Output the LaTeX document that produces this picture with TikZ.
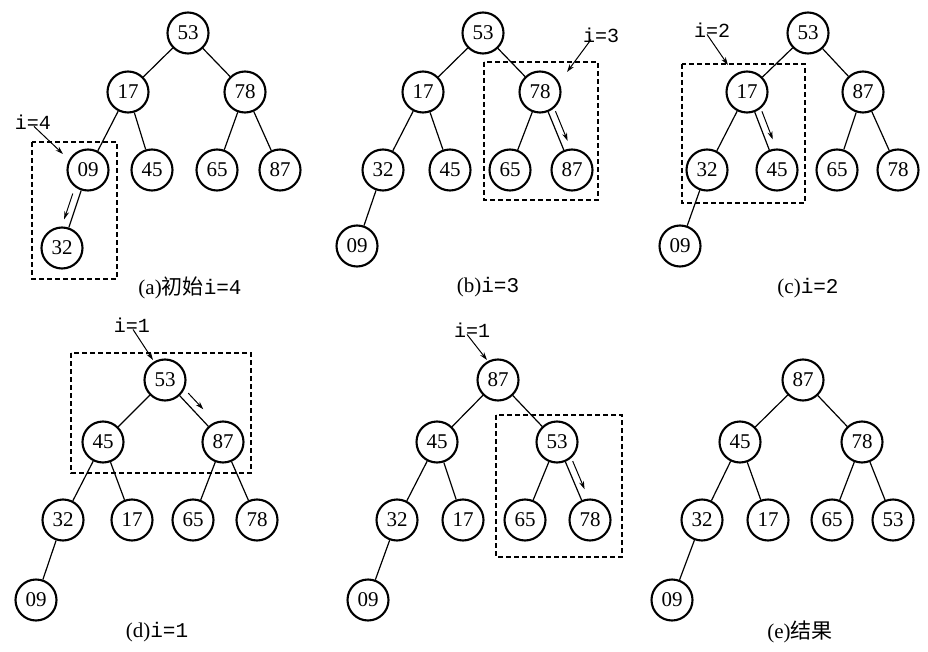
\documentclass[tikz,border=0pt]{standalone}
\usepackage{fontspec}
\setmainfont{Liberation Serif}
\setmonofont{Liberation Mono}
\newfontfamily\cjk{Noto Sans CJK SC}
\usetikzlibrary{arrows.meta,calc}

\tikzset{
  key/.style={circle, draw, line width=2.1pt, minimum size=41pt, inner sep=0pt,
              font=\fontsize{21}{21}\selectfont},
  link/.style={line width=1.2pt},
  focus/.style={line width=1.4pt, dash pattern=on 5pt off 3pt},
  pointer/.style={line width=1pt, -{Stealth[length=8pt,width=5pt]}},
  tag/.style={font=\ttfamily\fontsize{20}{20}\selectfont, inner sep=0pt},
  caption/.style={font=\fontsize{21}{21}\selectfont, inner sep=0pt}
}
% arrow running beside an edge, shifted sideways by #3
\newcommand\sidearrow[5]{%
  \draw[pointer] ($(#1)!#4!(#2)!#3!90:(#2)$) -- ($(#1)!#5!(#2)!#3!90:(#2)$);}

\begin{document}
\begin{tikzpicture}[x=1pt,y=-1pt]
\useasboundingbox (0,0) rectangle (928,652);

% ---------- (a) initial heap, i=4 ----------
\node[key] (a53) at (188,33) {53};
\node[key] (a17) at (128,92) {17};
\node[key] (a78) at (245,92) {78};
\node[key] (a09) at (88,170) {09};
\node[key] (a45) at (152,170) {45};
\node[key] (a65) at (217,170) {65};
\node[key] (a87) at (280,170) {87};
\node[key] (a32) at (62,248) {32};
\foreach \p/\c in {53/17,53/78,17/09,17/45,78/65,78/87,09/32}
  \draw[link] (a\p) -- (a\c);
\draw[focus] (32,142) rectangle (117,279);
\node[tag] (la) at (33,122) {i=4};
\coordinate (ta) at (63,154);
\draw[pointer] ([xshift=1pt,yshift=3pt]la.south) -- (ta);
\sidearrow{a09}{a32}{-7pt}{0.33}{0.66}
\node[caption] (capa) at (190,288) {(a){\cjk 初始}\texttt{i=4}};

% ---------- (b) i=3 ----------
\node[key] (b53) at (483,33) {53};
\node[key] (b17) at (423,92) {17};
\node[key] (b78) at (540,92) {78};
\node[key] (b32) at (383,170) {32};
\node[key] (b45) at (450,170) {45};
\node[key] (b65) at (510,170) {65};
\node[key] (b87) at (572,170) {87};
\node[key] (b09) at (357,246) {09};
\foreach \p/\c in {53/17,53/78,17/32,17/45,78/65,78/87,32/09}
  \draw[link] (b\p) -- (b\c);
\draw[focus] (484,62) rectangle (598,200);
\node[tag] (lb) at (601,35) {i=3};
\coordinate (tb) at (567,72);
\draw[pointer] ([xshift=-10pt,yshift=3pt]lb.south) -- (tb);
\sidearrow{b78}{b87}{7pt}{0.28}{0.66}
\node[caption] (capb) at (488,287) {(b)\texttt{i=3}};

% ---------- (c) i=2 ----------
\node[key] (c53) at (808,33) {53};
\node[key] (c17) at (747,92) {17};
\node[key] (c87) at (863,92) {87};
\node[key] (c32) at (707,170) {32};
\node[key] (c45) at (777,170) {45};
\node[key] (c65) at (837,170) {65};
\node[key] (c78) at (898,170) {78};
\node[key] (c09) at (680,246) {09};
\foreach \p/\c in {53/17,53/87,17/32,17/45,87/65,87/78,32/09}
  \draw[link] (c\p) -- (c\c);
\draw[focus] (682,64) rectangle (805,203);
\node[tag] (lc) at (712,30) {i=2};
\coordinate (tc) at (728,65);
\draw[pointer] ([xshift=-5pt,yshift=3pt]lc.south) -- (tc);
\sidearrow{c17}{c45}{7pt}{0.28}{0.64}
\node[caption] (capc) at (808,288) {(c)\texttt{i=2}};

% ---------- (d) i=1 ----------
\node[key] (d53) at (165,380) {53};
\node[key] (d45) at (103,442) {45};
\node[key] (d87) at (223,442) {87};
\node[key] (d32) at (63,520) {32};
\node[key] (d17) at (132,520) {17};
\node[key] (d65) at (193,520) {65};
\node[key] (d78) at (257,520) {78};
\node[key] (d09) at (36,600) {09};
\foreach \p/\c in {53/45,53/87,45/32,45/17,87/65,87/78,32/09}
  \draw[link] (d\p) -- (d\c);
\draw[focus] (71,353) rectangle (251,473);
\node[tag] (ld) at (132,325) {i=1};
\coordinate (td) at (153,360);
\draw[pointer] ([xshift=1pt,yshift=3pt]ld.south) -- (td);
\sidearrow{d53}{d87}{8pt}{0.3}{0.56}
\node[caption] (capd) at (157,632) {(d)\texttt{i=1}};

% ---------- i=1 continued, sift down 53 ----------
\node[key] (e87) at (498,380) {87};
\node[key] (e45) at (437,442) {45};
\node[key] (e53) at (557,442) {53};
\node[key] (e32) at (397,520) {32};
\node[key] (e17) at (463,520) {17};
\node[key] (e65) at (525,520) {65};
\node[key] (e78) at (590,520) {78};
\node[key] (e09) at (368,600) {09};
\foreach \p/\c in {87/45,87/53,45/32,45/17,53/65,53/78,32/09}
  \draw[link] (e\p) -- (e\c);
\draw[focus] (496,415) rectangle (622,557);
\node[tag] (le) at (472,330) {i=1};
\coordinate (te) at (487,360);
\draw[pointer] ([xshift=-5pt,yshift=3pt]le.south) -- (te);
\sidearrow{e53}{e78}{7pt}{0.28}{0.64}

% ---------- (e) result ----------
\node[key] (f87) at (803,380) {87};
\node[key] (f45) at (740,442) {45};
\node[key] (f78) at (862,442) {78};
\node[key] (f32) at (702,520) {32};
\node[key] (f17) at (768,520) {17};
\node[key] (f65) at (832,520) {65};
\node[key] (f53) at (893,520) {53};
\node[key] (f09) at (672,600) {09};
\foreach \p/\c in {87/45,87/78,45/32,45/17,78/65,78/53,32/09}
  \draw[link] (f\p) -- (f\c);
\node[caption] (capf) at (800,632) {(e){\cjk 结果}};
\end{tikzpicture}
\end{document}
